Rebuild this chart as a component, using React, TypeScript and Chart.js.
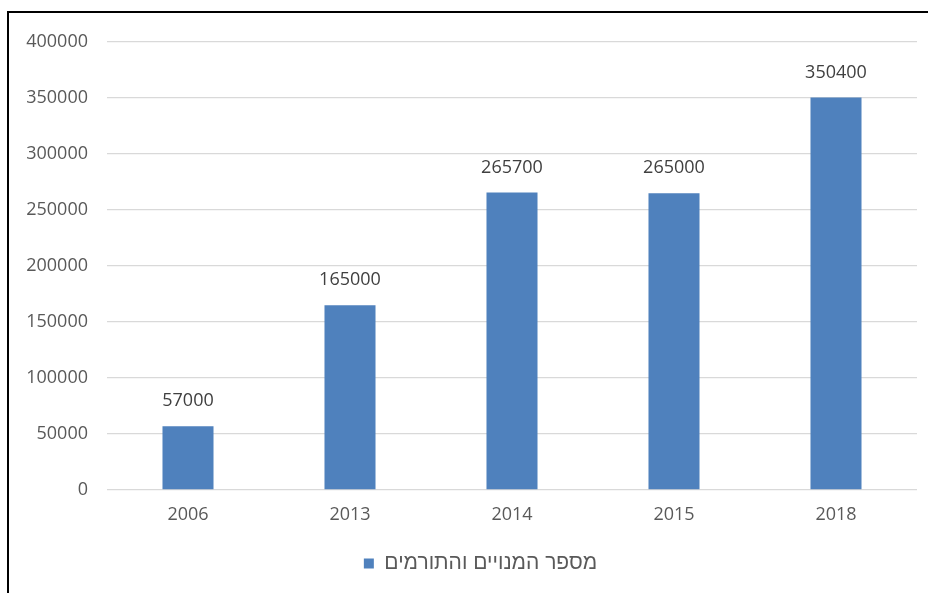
import React, { useEffect, useRef } from "react";
import { Chart, registerables } from "chart.js";

Chart.register(...registerables);

const categories = ["2006", "2013", "2014", "2015", "2018"];
const seriesValues = [57000, 165000, 265700, 265000, 350400];
const seriesLabel = "מספר המנויים והתורמים";
const yTicks = [0, 50000, 100000, 150000, 200000, 250000, 300000, 350000, 400000];

const FONT = "'Open Sans', 'Noto Sans', 'DejaVu Sans', sans-serif";
const LEGEND_FONT = "'Liberation Sans', 'DejaVu Sans', sans-serif";

const dataLabelPlugin = {
  id: "dataLabels",
  afterDatasetsDraw(chart: any) {
    const ctx = chart.ctx;
    const meta = chart.getDatasetMeta(0);
    ctx.save();
    ctx.font = `18px ${FONT}`;
    ctx.fillStyle = "#404040";
    ctx.textAlign = "center";
    ctx.textBaseline = "middle";
    meta.data.forEach((el: any, i: number) => {
      ctx.fillText(String(seriesValues[i]), el.x, el.y - 25);
    });
    ctx.restore();
  },
};

const legendShiftPlugin = {
  id: "legendShift",
  afterLayout(chart: any) {
    if (chart.legend) {
      chart.legend.left += 22;
      chart.legend.right += 22;
    }
  },
};

export default function App() {
  const ref = useRef<HTMLCanvasElement | null>(null);
  useEffect(() => {
    if (!ref.current) return;
    const chart = new Chart(ref.current, {
      type: "bar",
      data: {
        labels: categories,
        datasets: [
          {
            label: seriesLabel,
            data: seriesValues,
            backgroundColor: "#4F81BD",
            borderWidth: 0,
            categoryPercentage: 0.63,
            barPercentage: 0.5,
          },
        ],
      },
      options: {
        responsive: false,
        animation: false,
        devicePixelRatio: 1,
        layout: { padding: { top: 42, right: 16, bottom: 9, left: 0 } },
        plugins: {
          tooltip: { enabled: false },
          legend: {
            position: "bottom",
            labels: {
              boxWidth: 10,
              boxHeight: 10,
              color: "#595959",
              font: { family: LEGEND_FONT, size: 21 },
              padding: 8,
            },
          },
        },
        scales: {
          x: {
            grid: { display: false, drawTicks: false },
            border: { display: false },
            ticks: { color: "#595959", font: { family: FONT, size: 18 }, padding: 14 },
            afterFit: (s: any) => {
              s.height = 55;
            },
          },
          y: {
            min: 0,
            max: 400000,
            afterBuildTicks: (s: any) => {
              s.ticks = yTicks.map((v) => ({ value: v }));
            },
            grid: { color: "#D9D9D9", lineWidth: 1.3, drawTicks: false },
            border: { display: false },
            ticks: {
              color: "#595959",
              font: { family: FONT, size: 18 },
              padding: 19,
              callback: (v: any) => String(v),
            },
            afterFit: (s: any) => {
              s.width = 107;
            },
          },
        },
      },
      plugins: [dataLabelPlugin, legendShiftPlugin],
    });
    return () => chart.destroy();
  }, []);

  return (
    <div style={{ position: "fixed", left: 0, top: 0, width: 933, height: 593, background: "#fff", overflow: "hidden" }}>
      <div
        style={{
          position: "absolute",
          left: 7,
          top: 11,
          width: 921,
          height: 600,
          borderTop: "2px solid #000",
          borderLeft: "2px solid #000",
          boxSizing: "border-box",
        }}
      />
      <canvas ref={ref} width={933} height={593} style={{ position: "absolute", left: 0, top: 0, width: 933, height: 593 }} />
    </div>
  );
}
